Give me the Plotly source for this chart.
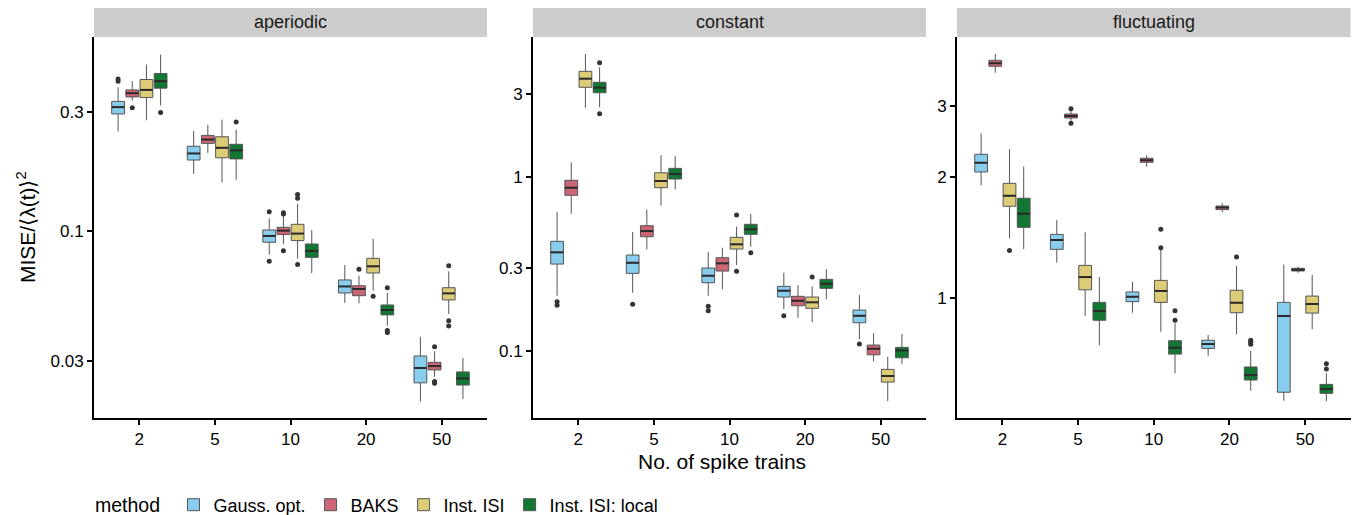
import plotly.graph_objects as go

N_LABELS = ["2", "5", "10", "20", "50"]
METHODS = ["Gauss. opt.", "BAKS", "Inst. ISI", "Inst. ISI: local"]
COLORS = ["#88CCEE", "#CC6677", "#DDCC77", "#117733"]
FACETS = ["aperiodic", "constant", "fluctuating"]

# each row: [lower whisker, Q1, median, Q3, upper whisker] for N = 2, 5, 10, 20, 50
APER_GAUSS = [[0.250, 0.294, 0.313, 0.330, 0.376], [0.169, 0.192, 0.204, 0.218, 0.251],
              [0.0801, 0.0898, 0.0952, 0.1006, 0.112], [0.0513, 0.0562, 0.0597, 0.0634, 0.0728],
              [0.0206, 0.0245, 0.0281, 0.0314, 0.0375]]
APER_BAKS = [[0.333, 0.344, 0.356, 0.367, 0.398], [0.205, 0.224, 0.232, 0.241, 0.266],
             [0.0884, 0.0964, 0.100, 0.1031, 0.115], [0.0511, 0.0548, 0.0583, 0.0601, 0.066],
             [0.0259, 0.0276, 0.0286, 0.0296, 0.0328]]
APER_ISI = [[0.277, 0.342, 0.367, 0.404, 0.464], [0.156, 0.196, 0.215, 0.238, 0.279],
            [0.0772, 0.0912, 0.0973, 0.106, 0.128], [0.0574, 0.0676, 0.0719, 0.0774, 0.0926],
            [0.0463, 0.0527, 0.056, 0.059, 0.0686]]
APER_LOCAL = [[0.318, 0.373, 0.398, 0.427, 0.509], [0.160, 0.194, 0.210, 0.222, 0.254],
              [0.0676, 0.0781, 0.0829, 0.0884, 0.1006], [0.0415, 0.0459, 0.048, 0.0503, 0.0562],
              [0.0211, 0.024, 0.0255, 0.0271, 0.0308]]
# outliers: (method index, N index, value)
APER_OUT = [(0, 0, 0.406), (0, 0, 0.398), (1, 0, 0.311), (3, 0, 0.298), (3, 1, 0.273),
            (0, 2, 0.119), (0, 2, 0.0753), (1, 2, 0.118), (1, 2, 0.1167), (1, 2, 0.0831),
            (2, 2, 0.1395), (2, 2, 0.135), (2, 2, 0.0732), (2, 3, 0.0545), (1, 3, 0.0699),
            (3, 3, 0.059), (3, 3, 0.0397), (3, 3, 0.039), (1, 4, 0.0342), (1, 4, 0.0248),
            (1, 4, 0.0244), (2, 4, 0.0723), (2, 4, 0.0435), (2, 4, 0.0414)]

CONST_GAUSS = [[0.2077, 0.3155, 0.3684, 0.426, 0.63], [0.216, 0.2791, 0.321, 0.3555, 0.4818],
               [0.2077, 0.2465, 0.2704, 0.2994, 0.3698], [0.1742, 0.2041, 0.2218, 0.235, 0.2813],
               [0.1167, 0.1453, 0.1594, 0.1719, 0.2096]]
CONST_BAKS = [[0.613, 0.782, 0.865, 0.9535, 1.21], [0.3833, 0.4526, 0.488, 0.5236, 0.6466],
              [0.2259, 0.2877, 0.3185, 0.3429, 0.3914], [0.1552, 0.182, 0.1943, 0.206, 0.2391],
              [0.0873, 0.0952, 0.1031, 0.1082, 0.1264]]
CONST_ISI = [[2.488, 3.259, 3.65, 4.025, 5.06], [0.682, 0.865, 0.945, 1.054, 1.327],
             [0.3114, 0.3848, 0.4095, 0.449, 0.5166], [0.1461, 0.1758, 0.1903, 0.2041, 0.235],
             [0.0516, 0.0664, 0.0719, 0.0785, 0.0928]]
CONST_LOCAL = [[2.501, 3.033, 3.241, 3.48, 4.244], [0.847, 0.97, 1.036, 1.117, 1.315],
               [0.3966, 0.4673, 0.4992, 0.5333, 0.6109], [0.198, 0.2289, 0.2432, 0.2578, 0.2954],
               [0.0842, 0.0915, 0.1009, 0.105, 0.1252]]
CONST_OUT = [(0, 0, 0.1918), (0, 0, 0.183), (3, 0, 4.51), (3, 0, 2.298), (0, 1, 0.1853),
             (0, 2, 0.1805), (0, 2, 0.1703), (2, 2, 0.6031), (2, 2, 0.2866), (3, 2, 0.3664),
             (0, 3, 0.1594), (2, 3, 0.2658), (0, 4, 0.1097)]

FLUCT_GAUSS = [[1.91, 2.058, 2.17, 2.277, 2.567], [1.226, 1.323, 1.395, 1.441, 1.564],
               [0.921, 0.981, 1.009, 1.037, 1.099], [0.7203, 0.751, 0.77, 0.787, 0.811],
               [0.557, 0.5846, 0.904, 0.977, 1.212]]
FLUCT_BAKS = [[3.629, 3.764, 3.83, 3.895, 4.038], [2.759, 2.802, 2.834, 2.866, 2.916],
              [2.121, 2.175, 2.2, 2.226, 2.264], [1.635, 1.66, 1.679, 1.694, 1.721],
              [1.157, 1.169, 1.178, 1.187, 1.198]]
FLUCT_ISI = [[1.409, 1.692, 1.797, 1.929, 2.343], [0.904, 1.05, 1.129, 1.207, 1.458],
             [0.826, 0.977, 1.043, 1.108, 1.318], [0.814, 0.921, 0.975, 1.047, 1.203],
             [0.838, 0.919, 0.968, 1.013, 1.142]]
FLUCT_LOCAL = [[1.325, 1.50, 1.622, 1.771, 2.121], [0.7645, 0.882, 0.93, 0.977, 1.129],
               [0.6516, 0.727, 0.754, 0.785, 0.867], [0.59, 0.627, 0.645, 0.6755, 0.741],
               [0.556, 0.581, 0.5956, 0.6116, 0.6516]]
FLUCT_OUT = [(2, 0, 1.315), (1, 1, 2.954), (1, 1, 2.718), (2, 2, 1.483), (2, 2, 1.335),
             (3, 2, 0.932), (3, 2, 0.882), (2, 3, 1.266), (3, 3, 0.787), (3, 3, 0.778),
             (3, 3, 0.769), (3, 4, 0.688), (3, 4, 0.668)]

Y_TICKS = [[0.03, 0.1, 0.3], [0.1, 0.3, 1, 3], [1, 2, 3]]
Y_RANGES = [[-1.752, -0.223], [-1.384, 0.8015], [-0.297, 0.6484]]

PANELS = [
    ([APER_GAUSS, APER_BAKS, APER_ISI, APER_LOCAL], APER_OUT),
    ([CONST_GAUSS, CONST_BAKS, CONST_ISI, CONST_LOCAL], CONST_OUT),
    ([FLUCT_GAUSS, FLUCT_BAKS, FLUCT_ISI, FLUCT_LOCAL], FLUCT_OUT),
]

W, H = 1358, 515
X_DOMAINS = [[94 / W, 487 / W], [533 / W, 926 / W], [957 / W, 1350.5 / W]]
Y_DOMAIN = [(H - 418) / H, (H - 37) / H]
STRIP_TOP = (H - 8) / H

DODGE = 0.75
SLOT = DODGE / len(METHODS)
BOXW = SLOT * 0.9

FONT = "Liberation Sans, Arial, sans-serif"

fig = go.Figure()

for p, (boxes, outs) in enumerate(PANELS):
    xa = "x" if p == 0 else f"x{p + 1}"
    ya = "y" if p == 0 else f"y{p + 1}"
    med_x, med_y = [], []
    for m, stats in enumerate(boxes):
        xs = [i + 1 + (m - 1.5) * SLOT for i in range(len(N_LABELS))]
        fig.add_trace(go.Box(
            x=xs,
            lowerfence=[s[0] for s in stats],
            q1=[s[1] for s in stats],
            median=[s[2] for s in stats],
            q3=[s[3] for s in stats],
            upperfence=[s[4] for s in stats],
            width=BOXW,
            fillcolor=COLORS[m],
            line=dict(color="#555555", width=1),
            whiskerwidth=0,
            boxpoints=False,
            name=METHODS[m],
            legendgroup=METHODS[m],
            showlegend=(p == 0),
            xaxis=xa, yaxis=ya,
            hoverinfo="skip",
        ))
        for x, s in zip(xs, stats):
            med_x += [x - BOXW / 2, x + BOXW / 2, None]
            med_y += [s[2], s[2], None]
    fig.add_trace(go.Scatter(
        x=med_x, y=med_y, mode="lines",
        line=dict(color="#2a2a2a", width=2),
        showlegend=False, hoverinfo="skip", xaxis=xa, yaxis=ya,
    ))
    fig.add_trace(go.Scatter(
        x=[o[1] + 1 + (o[0] - 1.5) * SLOT for o in outs],
        y=[o[2] for o in outs],
        mode="markers",
        marker=dict(color="#333333", size=5),
        showlegend=False, hoverinfo="skip", xaxis=xa, yaxis=ya,
    ))

layout = dict(
    width=W, height=H,
    margin=dict(l=0, r=0, t=0, b=0, autoexpand=False),
    paper_bgcolor="white", plot_bgcolor="white",
    boxmode="overlay",
    font=dict(family=FONT, color="#000000"),
    showlegend=True,
    legend=dict(
        orientation="h", x=0.0685, y=(H - 505) / H, xanchor="left", yanchor="middle",
        title=dict(text="method ", font=dict(size=19.5, color="#000000")),
        font=dict(size=18, color="#000000"),
        bgcolor="rgba(0,0,0,0)", tracegroupgap=0,
    ),
)

for p in range(3):
    xk = "xaxis" if p == 0 else f"xaxis{p + 1}"
    yk = "yaxis" if p == 0 else f"yaxis{p + 1}"
    layout[xk] = dict(
        domain=X_DOMAINS[p], anchor="y" if p == 0 else f"y{p + 1}",
        range=[0.4, len(N_LABELS) + 0.6],
        tickvals=list(range(1, len(N_LABELS) + 1)), ticktext=N_LABELS,
        showline=True, linecolor="black", linewidth=2,
        ticks="outside", ticklen=5, tickwidth=1.5, tickcolor="black",
        showgrid=False, zeroline=False, automargin=False,
        tickfont=dict(size=17, color="#000000"),
    )
    layout[yk] = dict(
        domain=Y_DOMAIN, anchor="x" if p == 0 else f"x{p + 1}",
        type="log", range=Y_RANGES[p],
        tickvals=Y_TICKS[p], ticktext=[str(t) for t in Y_TICKS[p]],
        showline=True, linecolor="black", linewidth=2,
        ticks="outside", ticklen=5, tickwidth=1.5, tickcolor="black",
        showgrid=False, zeroline=False, automargin=False,
        tickfont=dict(size=17, color="#000000"),
    )

fig.update_layout(**layout)

shapes = []
annotations = []
for p, name in enumerate(FACETS):
    shapes.append(dict(type="rect", xref="paper", yref="paper",
                       x0=X_DOMAINS[p][0], x1=X_DOMAINS[p][1],
                       y0=Y_DOMAIN[1], y1=STRIP_TOP,
                       fillcolor="#CCCCCC", line=dict(width=0), layer="below"))
    annotations.append(dict(text=name, xref="paper", yref="paper",
                            x=(X_DOMAINS[p][0] + X_DOMAINS[p][1]) / 2,
                            y=(Y_DOMAIN[1] + STRIP_TOP) / 2,
                            showarrow=False, font=dict(size=18, color="#1A1A1A"),
                            xanchor="center", yanchor="middle"))

annotations.append(dict(text="No. of spike trains", xref="paper", yref="paper",
                        x=(X_DOMAINS[0][0] + X_DOMAINS[2][1]) / 2, y=(H - 461) / H,
                        showarrow=False, font=dict(size=21, color="#000000"),
                        xanchor="center", yanchor="middle"))
annotations.append(dict(text="MISE/⟨λ(t)⟩<sup>2</sup>", xref="paper", yref="paper",
                        x=26 / W, y=(H - 227) / H, textangle=-90,
                        showarrow=False, font=dict(size=21, color="#000000"),
                        xanchor="center", yanchor="middle"))

fig.update_layout(shapes=shapes, annotations=annotations)

fig.write_html("out.html")
